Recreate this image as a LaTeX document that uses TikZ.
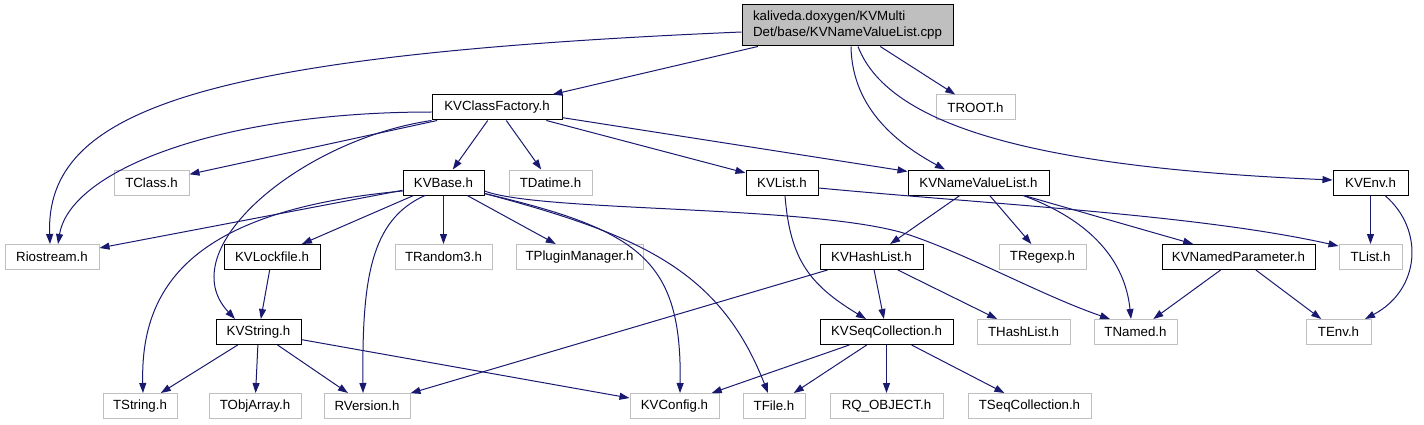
\documentclass[tikz,border=0pt]{standalone}
\usepackage{fontspec}
\setmainfont{Liberation Sans}
\usetikzlibrary{arrows.meta}
\definecolor{edgeblue}{HTML}{191970}
\definecolor{sysgray}{HTML}{BFBFBF}
\definecolor{rootgray}{HTML}{BFBFBF}
\tikzset{
  box/.style={draw, line width=1pt, inner sep=0pt, minimum height=25pt, anchor=center,
    font=\fontsize{13.3}{16}\selectfont},
  kv/.style={box, draw=black},
  sys/.style={box, draw=sysgray},
  edge/.style={draw=edgeblue, line width=1pt, -{Triangle[length=10pt,width=7pt]}},
}
\begin{document}
\begin{tikzpicture}[x=1pt,y=-1pt]
\useasboundingbox (0,0) rectangle (1424,425);
% nodes
\node[kv, fill=rootgray, minimum width=211pt, minimum height=41pt, align=left] (root) at (847.5,25.5) {kaliveda.doxygen/KVMulti\\Det/base/KVNameValueList.cpp};
\node[kv, minimum width=130pt] (cf) at (497,107.5) {KVClassFactory.h};
\node[sys, minimum width=79pt] (troot) at (975.5,107.5) {TROOT.h};
\node[sys, minimum width=75pt] (tclass) at (151.5,182.5) {TClass.h};
\node[kv, minimum width=81pt] (kvbase) at (443.5,182.5) {KVBase.h};
\node[sys, minimum width=83pt] (tdatime) at (550.5,182.5) {TDatime.h};
\node[kv, minimum width=72pt] (kvlist) at (782,182.5) {KVList.h};
\node[kv, minimum width=141pt] (kvnvl) at (978.5,182.5) {KVNameValueList.h};
\node[kv, minimum width=75pt] (kvenv) at (1370.5,182.5) {KVEnv.h};
\node[sys, minimum width=94pt] (rio) at (52,257) {Riostream.h};
\node[kv, minimum width=96pt] (kvlock) at (272,257) {KVLockfile.h};
\node[sys, minimum width=97pt] (trandom) at (443.5,257) {TRandom3.h};
\node[sys, minimum width=127pt] (tplugin) at (579.5,257) {TPluginManager.h};
\node[kv, minimum width=103pt] (kvhash) at (871.5,257) {KVHashList.h};
\node[sys, minimum width=87pt] (tregexp) at (1042.5,257) {TRegexp.h};
\node[kv, minimum width=153pt] (kvnp) at (1238.5,257) {KVNamedParameter.h};
\node[sys, minimum width=63pt] (tlist) at (1370.5,257) {TList.h};
\node[kv, minimum width=85pt] (kvstring) at (258.5,332) {KVString.h};
\node[kv, minimum width=133pt] (kvseq) at (886.5,332) {KVSeqCollection.h};
\node[sys, minimum width=93pt] (thash) at (1023.5,332) {THashList.h};
\node[sys, minimum width=83pt] (tnamed) at (1135.5,332) {TNamed.h};
\node[sys, minimum width=65pt] (tenv) at (1338.5,332) {TEnv.h};
\node[sys, minimum width=74pt] (tstring) at (140,406) {TString.h};
\node[sys, minimum width=92pt] (tobj) at (255,406) {TObjArray.h};
\node[sys, minimum width=86pt] (rversion) at (367,406) {RVersion.h};
\node[sys, minimum width=89pt] (kvconfig) at (674.5,406) {KVConfig.h};
\node[sys, minimum width=62pt] (tfile) at (774,406) {TFile.h};
\node[sys, minimum width=113pt] (rq) at (886.5,406) {RQ\_OBJECT.h};
\node[sys, minimum width=123pt] (tseq) at (1029.5,406) {TSeqCollection.h};
% edges from root
\draw[edge] ([yshift=-6.5pt]root.west) .. controls (200,55) and (45,110) .. ([xshift=-2pt]rio.north);
\draw[edge] (root) -- (cf);
\draw[edge] ([xshift=3.5pt]root.south) .. controls (852,110) and (900,145) .. ([xshift=-33.5pt]kvnvl.north);
\draw[edge] (root) -- (troot);
\draw[edge] ([xshift=10.5pt]root.south) .. controls (890,130) and (1050,168) .. ([yshift=2.5pt]kvenv.west);
% edges from KVClassFactory
\draw[edge] ([yshift=-4.5pt]cf.west) .. controls (220,112) and (70,170) .. ([xshift=6pt]rio.north);
\draw[edge] (cf) -- (tclass);
\draw[edge] (cf.south west) .. controls (300,140) and (170,250) .. ([xshift=-23.5pt]kvstring.north);
\draw[edge] (cf) -- (kvbase);
\draw[edge] (cf) -- (tdatime);
\draw[edge] (cf) -- (kvlist);
\draw[edge] (cf) -- (kvnvl);
% edges from KVBase
\draw[edge] (kvbase) -- (rio);
\draw[edge] (kvbase) -- (kvlock);
\draw[edge] ([yshift=-8.5pt]kvbase.west) .. controls (200,210) and (140,280) .. ([xshift=3pt]tstring.north);
\draw[edge] ([xshift=-18.5pt]kvbase.south) .. controls (370,220) and (362,280) .. ([xshift=-4pt]rversion.north);
\draw[edge] (kvbase) -- (trandom);
\draw[edge] (kvbase) -- (tplugin);
\draw[edge] ([yshift=2pt]kvbase.south east) .. controls (640,230) and (682,260) .. ([xshift=5.5pt]kvconfig.north);
\draw[edge] ([yshift=2pt]kvbase.south east) .. controls (640,235) and (720,270) .. ([xshift=-6pt]tfile.north);
\draw[edge] ([yshift=-8.5pt]kvbase.east) .. controls (540,212) and (800,205) .. (900,232) .. controls (960,250) and (1040,295) .. ([xshift=-25.5pt]tnamed.north);
% KVList
\draw[edge] ([yshift=-5.5pt]kvlist.east) .. controls (1000,205) and (1200,215) .. ([yshift=11pt]tlist.west);
\draw[edge] ([xshift=3pt]kvlist.south) .. controls (790,260) and (810,285) .. ([xshift=-20.5pt]kvseq.north);
% KVNameValueList
\draw[edge] (kvnvl) -- (kvhash);
\draw[edge] (kvnvl) -- (tregexp);
\draw[edge] ([xshift=44.5pt]kvnvl.south) .. controls (1090,220) and (1125,260) .. ([xshift=-4.5pt]tnamed.north);
\draw[edge] (kvnvl) -- (kvnp);
% KVEnv
\draw[edge] (kvenv) -- (tlist);
\draw[edge] ([xshift=14.5pt]kvenv.south) .. controls (1425,230) and (1420,290) .. ([xshift=26.5pt]tenv.north);
% KVLockfile
\draw[edge] (kvlock) -- (kvstring);
% KVString
\draw[edge] (kvstring) -- (tstring);
\draw[edge] (kvstring) -- (tobj);
\draw[edge] (kvstring) -- (rversion);
\draw[edge] (kvstring) -- (kvconfig);
% KVHashList
\draw[edge] (kvhash) -- (rversion);
\draw[edge] (kvhash) -- (kvseq);
\draw[edge] (kvhash) -- (thash);
% KVNamedParameter
\draw[edge] (kvnp) -- (tnamed);
\draw[edge] (kvnp) -- (tenv);
% KVSeqCollection
\draw[edge] (kvseq) -- (kvconfig);
\draw[edge] (kvseq) -- (tfile);
\draw[edge] (kvseq) -- (rq);
\draw[edge] (kvseq) -- (tseq);
\end{tikzpicture}
\end{document}
